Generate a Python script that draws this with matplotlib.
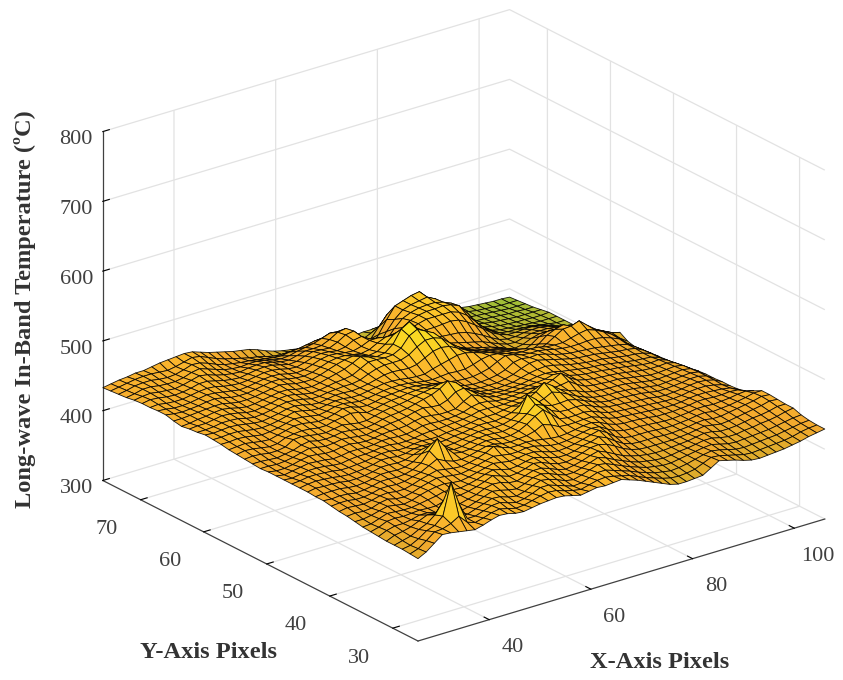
import numpy as np
import matplotlib
matplotlib.use("Agg")
import matplotlib.pyplot as plt
from matplotlib.colors import LinearSegmentedColormap
from matplotlib.transforms import ScaledTranslation
from mpl_toolkits.mplot3d import proj3d

plt.rcParams['font.family'] = ['Liberation Serif', 'DejaVu Serif']
plt.rcParams['grid.color'] = '#e2e2e2'
plt.rcParams['grid.linewidth'] = 0.9

x_ticks = [40, 60, 80, 100]
y_ticks = [30, 40, 50, 60, 70]
z_ticks = [300, 400, 500, 600, 700, 800]
x_label = 'X-Axis Pixels'
y_label = 'Y-Axis Pixels'
z_label = 'Long-wave In-Band Temperature (ºC)'

x_pixels = np.linspace(26, 106, 51)
y_pixels = np.linspace(26, 76, 41)

# temperature, one row per y value (front to back)
temperature = [
    [418,424,433,442,441,439,437,435,438,442, 445,444,441,440,442,444,445,446,445,442, 439,441,443,442,443,444,440,436,431,426, 421,416,413,413,414,415,422,429,426,423, 419,416,415,416,417,418,420,422,425,427, 429],
    [419,423,431,440,441,445,452,440,436,439, 443,445,442,439,440,443,446,448,447,443, 440,438,441,444,445,443,440,437,432,427, 423,419,416,415,416,418,423,428,427,424, 421,418,417,418,419,420,421,423,426,428, 429],
    [420,422,428,436,440,450,495,460,436,436, 440,444,445,441,438,440,444,449,449,445, 441,437,438,442,446,446,442,438,434,429, 425,421,419,417,418,420,423,426,428,426, 423,420,419,420,421,422,423,425,427,429, 430],
    [420,423,426,432,437,446,462,446,434,433, 437,441,445,444,440,438,441,446,450,448, 444,439,437,440,444,448,446,441,436,431, 427,423,421,419,419,421,423,425,427,428, 425,422,421,422,423,424,425,427,429,431, 432],
    [420,425,427,430,435,440,438,433,430,431, 434,438,442,446,444,441,439,443,448,450, 447,442,438,438,441,445,449,445,439,434, 429,425,423,421,420,421,423,424,426,428, 428,425,423,423,425,426,428,429,431,434, 436],
    [421,426,429,429,431,434,434,431,430,432, 433,436,439,444,447,446,442,441,445,449, 449,445,440,437,439,442,446,449,444,438, 432,428,425,423,422,422,423,424,425,427, 429,428,425,425,426,428,430,431,433,436, 436],
    [422,425,430,431,430,431,432,431,431,434, 436,436,438,441,445,450,446,442,443,446, 450,448,443,439,438,440,444,448,449,446, 440,433,428,425,424,424,424,424,425,426, 428,430,428,426,427,429,431,433,435,438, 437],
    [423,424,428,432,431,430,430,432,434,436, 439,438,437,439,442,446,449,446,443,444, 447,449,446,442,439,439,441,445,447,451, 446,438,431,427,426,426,426,425,425,426, 427,429,430,428,428,430,432,434,436,439, 438],
    [425,425,427,430,433,431,429,431,435,438, 440,441,439,438,440,443,446,449,447,445, 446,448,448,445,441,439,440,442,445,448, 451,444,435,430,428,428,428,427,426,426, 427,428,430,431,429,430,431,433,435,438, 438],
    [427,428,427,428,432,434,431,430,433,437, 440,443,442,440,439,441,444,447,450,448, 446,446,448,447,444,441,440,441,443,446, 448,447,440,434,431,430,430,429,428,427, 427,428,429,431,431,430,431,432,434,435, 432],
    [428,430,429,428,430,433,434,432,432,435, 439,442,445,443,441,440,442,445,449,455, 450,446,446,447,446,444,442,441,442,444, 446,447,444,438,434,432,432,431,430,428, 428,428,429,430,432,432,431,431,432,431, 426],
    [430,431,431,429,429,431,434,434,433,434, 437,440,446,452,446,442,441,443,446,449, 449,446,445,446,447,450,456,452,446,445, 445,446,446,442,437,434,433,432,431,430, 429,428,428,429,431,432,432,431,430,428, 423],
    [432,431,432,431,429,430,432,435,435,434, 435,438,444,458,472,456,444,442,443,446, 448,447,445,445,448,454,462,468,458,448, 446,446,447,445,440,436,434,433,432,431, 430,429,428,428,429,431,432,432,430,427, 422],
    [432,433,433,433,431,430,431,433,436,436, 435,436,440,448,456,450,443,440,441,444, 446,447,446,445,447,452,460,470,465,454, 449,448,449,448,443,438,435,434,433,432, 431,430,428,427,428,429,431,432,431,428, 422],
    [433,435,434,434,433,431,431,432,434,437, 437,436,437,441,445,444,441,439,440,442, 444,446,446,445,446,449,455,478,468,456, 452,452,453,450,445,440,436,434,434,433, 432,431,429,427,427,428,429,431,431,428, 421],
    [433,435,436,435,434,432,431,432,433,435, 438,438,436,437,440,441,440,438,439,441, 442,444,446,446,445,447,450,456,456,452, 456,462,458,452,446,441,437,435,434,434, 433,432,430,428,426,427,428,429,430,428, 421],
    [433,434,436,436,435,434,432,432,433,434, 436,438,438,436,436,438,439,438,438,440, 441,442,444,446,446,446,448,450,451,454, 460,470,462,453,448,444,439,436,435,434, 434,433,431,429,427,426,427,428,429,427, 420],
    [433,432,434,436,436,435,433,432,434,435, 435,436,438,438,436,436,437,439,440,440, 441,442,443,445,448,448,447,447,448,449, 452,456,453,449,450,452,444,438,436,435, 434,434,432,430,428,426,426,427,428,426, 418],
    [433,431,433,435,437,436,435,433,434,436, 436,435,436,438,438,437,437,439,442,442, 441,441,442,444,448,450,449,446,445,446, 447,449,449,448,452,458,448,441,438,436, 435,434,433,431,429,427,426,426,427,424, 416],
    [433,431,431,433,436,438,437,435,435,437, 438,436,435,436,438,439,439,440,443,445, 444,442,442,443,450,456,451,446,443,443, 443,444,445,446,447,450,446,442,439,437, 436,435,433,432,430,428,426,425,426,422, 414],
    [432,432,431,432,434,437,440,438,436,437, 439,438,436,435,437,439,441,442,444,447, 449,447,446,450,458,460,452,445,441,440, 439,440,441,443,445,446,445,442,440,438, 436,435,434,432,430,428,426,425,424,420, 413],
    [433,433,432,431,433,435,439,441,438,437, 438,440,439,437,436,438,441,443,444,446, 449,452,455,460,468,462,450,443,439,437, 436,437,438,441,444,446,447,445,442,439, 437,435,434,433,431,429,427,426,424,420, 412],
    [434,435,434,432,432,434,441,442,440,438, 437,439,441,439,437,437,440,443,445,446, 448,451,453,455,458,455,447,441,437,435, 435,435,437,440,445,449,450,447,444,441, 438,436,435,434,432,430,428,427,425,419, 411],
    [435,437,436,434,432,433,438,440,441,440, 438,438,441,443,445,443,439,441,444,446, 447,449,450,450,450,448,443,439,436,434, 434,435,437,441,448,450,448,449,446,442, 439,437,436,435,434,432,430,428,425,418, 410],
    [436,437,438,436,434,433,436,439,442,442, 440,438,439,442,446,445,441,440,442,445, 446,447,448,447,445,443,441,439,437,436, 436,438,441,447,452,450,446,445,445,443, 440,438,437,437,438,438,436,432,427,417, 408],
    [438,438,439,438,436,434,435,437,440,443, 442,440,438,440,443,444,442,440,441,443, 445,446,446,445,443,441,440,441,442,441, 441,444,448,450,449,446,443,441,442,441, 438,437,437,440,443,445,441,435,428,419, 411],
    [439,439,440,440,438,436,435,436,438,441, 444,442,439,438,440,442,442,440,440,442, 444,446,446,445,443,442,442,446,449,452, 455,455,452,448,445,442,440,438,436,432, 428,433,440,447,448,452,442,433,427,421, 418],
    [440,439,440,441,440,438,436,435,437,439, 442,443,441,438,437,439,441,441,440,441, 443,446,449,450,449,448,450,456,462,464, 462,456,450,445,441,438,436,433,430,424, 420,427,436,441,444,438,433,428,423,417, 412],
    [438,438,439,441,441,440,437,435,436,438, 441,443,442,440,437,437,439,440,441,441, 443,448,452,454,454,454,458,466,472,472, 468,458,449,442,437,434,431,429,425,419, 415,420,428,432,432,429,426,422,417,411, 405],
    [437,438,438,440,442,441,439,436,435,437, 439,442,443,441,438,436,437,439,441,442, 444,450,456,456,455,456,462,476,482,476, 470,456,446,439,434,431,428,425,421,416, 413,415,420,423,423,422,420,417,412,406, 400],
    [435,436,438,439,441,442,440,437,435,436, 438,440,442,442,439,437,436,438,441,444, 447,452,458,454,451,453,462,480,487,474, 464,452,444,439,436,433,430,427,422,417, 413,412,415,418,418,418,416,412,407,401, 395],
    [437,437,438,439,440,441,441,438,436,436, 437,439,441,443,441,438,437,437,440,444, 448,451,453,451,447,449,456,466,470,464, 458,450,446,443,442,441,438,433,427,420, 414,411,411,413,414,414,412,408,403,398, 395],
    [440,438,437,438,439,441,442,440,437,436, 436,438,440,442,442,439,437,436,438,442, 446,448,448,446,444,446,452,457,458,456, 452,450,450,450,451,452,450,444,436,427, 418,412,408,408,409,409,407,404,400,396, 395],
    [440,439,437,437,438,440,442,441,439,437, 435,436,438,440,441,440,437,435,436,440, 444,446,445,443,442,445,450,450,447,445, 446,449,453,456,456,456,456,452,444,432, 420,411,405,403,403,402,401,399,397,395, 395],
    [439,440,438,437,437,439,441,442,441,438, 436,435,436,438,440,440,438,435,434,437, 441,443,442,440,442,448,450,443,432,430, 436,445,452,456,458,458,459,457,452,438, 422,410,403,400,399,398,397,396,395,395, 395],
    [439,441,440,438,437,438,440,443,443,440, 437,435,434,436,438,439,438,435,432,433, 437,440,439,438,443,450,452,440,424,418, 425,438,449,454,457,458,458,455,450,436, 420,408,402,399,397,396,395,395,394,394, 395],
    [438,440,441,439,438,437,439,442,445,443, 439,436,434,433,435,436,436,433,430,429, 432,435,435,436,441,448,450,438,418,408, 410,428,442,452,456,458,460,454,444,428, 414,405,400,398,396,395,394,393,393,393, 393],
    [436,438,441,441,439,438,438,440,444,446, 442,438,434,432,431,432,432,430,427,425, 426,429,431,433,437,441,440,428,410,402, 402,418,436,452,456,460,462,450,436,420, 408,402,398,396,395,394,393,392,392,391, 391],
    [435,437,440,441,441,439,438,439,442,446, 445,441,436,432,430,428,427,425,423,421, 420,422,423,425,427,428,424,414,404,400, 399,406,420,434,440,444,444,436,422,410, 403,399,396,395,394,393,392,391,390,390, 390],
    [434,436,438,440,441,441,440,439,441,444, 447,445,440,435,431,428,425,422,420,417, 414,413,413,412,410,408,405,402,400,399, 398,400,405,411,416,418,418,414,408,403, 400,397,396,395,394,392,391,390,389,389, 389],
    [433,435,437,438,440,440,442,444,445,446, 447,446,442,438,435,432,429,427,425,421, 416,412,409,407,405,404,402,401,400,400, 400,400,401,401,401,400,400,400,400,399, 398,397,396,395,394,392,391,390,389,389, 388],
]

surface_colors = [(0.00, '#8cc03a'), (0.05, '#a9bc35'), (0.15, '#c4b52e'), (0.25, '#d9ad2b'),
                  (0.41, '#f4a92e'), (0.59, '#fcba2c'), (0.77, '#fad624'), (1.00, '#f7e81e')]
surface_cmap = LinearSegmentedColormap.from_list('surface', surface_colors)

fig = plt.figure(figsize=(8.43, 6.8), dpi=100)
ax = fig.add_axes([0, 0, 1, 1], projection='3d', proj_type='ortho')
ax.view_init(elev=23, azim=-127.5)
ax.set_box_aspect((510, 515, 377))

X, Y = np.meshgrid(x_pixels, y_pixels)
Z = np.array(temperature, dtype=float)
ax.plot_surface(X, Y, Z, rstride=1, cstride=1, cmap=surface_cmap, vmin=385, vmax=495,
                edgecolor=(0, 0, 0, 0.9), linewidth=0.6, antialiased=True)

ax.set_xlim(26, 106)
ax.set_ylim(26, 76)
ax.set_zlim(300, 800)
ax.set_xticks(x_ticks)
ax.set_yticks(y_ticks)
ax.set_zticks(z_ticks)
ax.set_xticklabels([str(v) for v in x_ticks])
ax.set_yticklabels([str(v) for v in y_ticks])
ax.set_zticklabels([str(v) for v in z_ticks])

for axis in (ax.xaxis, ax.yaxis, ax.zaxis):
    axis.set_pane_color((1, 1, 1, 1))
    axis.pane.set_edgecolor('none')
    axis.line.set_color('#404040')
    axis.line.set_linewidth(0.9)
    axis._axinfo['tick']['color'] = '#404040'
    axis._axinfo['tick']['linewidth'] = {True: 0.8, False: 0.5}
    axis._axinfo['tick']['inward_factor'] = 0.0
    axis._axinfo['tick']['outward_factor'] = 0.2
ax.tick_params(axis='x', labelsize=16, labelcolor='#404040', pad=14)
ax.tick_params(axis='y', labelsize=16, labelcolor='#404040', pad=17)
ax.tick_params(axis='z', labelsize=16, labelcolor='#404040', pad=3)
ax.zaxis.set_ticks_position('upper')
for tick_label in ax.get_xticklabels() + ax.get_yticklabels():
    tick_label.set_va('bottom')
# the y labels sit a little higher in the reference
y_shift = ScaledTranslation(2 / 100, 9 / 100, fig.dpi_scale_trans)
for tick_label in ax.get_yticklabels():
    tick_label.set_transform(tick_label.get_transform() + y_shift)


def corner_pixels():
    fig.canvas.draw()
    proj = ax.get_proj()
    out = []
    for cx, cy in ((26, 26), (26, 76), (106, 26)):
        vx, vy, _ = proj3d.proj_transform(cx, cy, 300, proj)
        px, py = ax.transData.transform((vx, vy))
        out.append((px, 680 - py))
    return out


# fit the box on to the corners of the reference
front, left, right = corner_pixels()
side = 680 * (825 - 103) / (right[0] - left[0])
ax.set_position([0, 0, side / 843, side / 680])
front, left, right = corner_pixels()
pos = ax.get_position()
ax.set_position([pos.x0 + (418 - front[0]) / 843, pos.y0 - (641 - front[1]) / 680,
                 pos.width, pos.height])

fig.text(25 / 843, 1 - 309 / 680, z_label, rotation=90, ha='center', va='center',
         fontsize=17.6, fontweight='bold', color='#333333')
fig.text(208 / 843, 1 - 653 / 680, y_label, ha='center', va='center',
         fontsize=17.6, fontweight='bold', color='#333333')
fig.text(660 / 843, 1 - 663 / 680, x_label, ha='center', va='center',
         fontsize=17.6, fontweight='bold', color='#333333')

fig.savefig('out.png', dpi=100)
